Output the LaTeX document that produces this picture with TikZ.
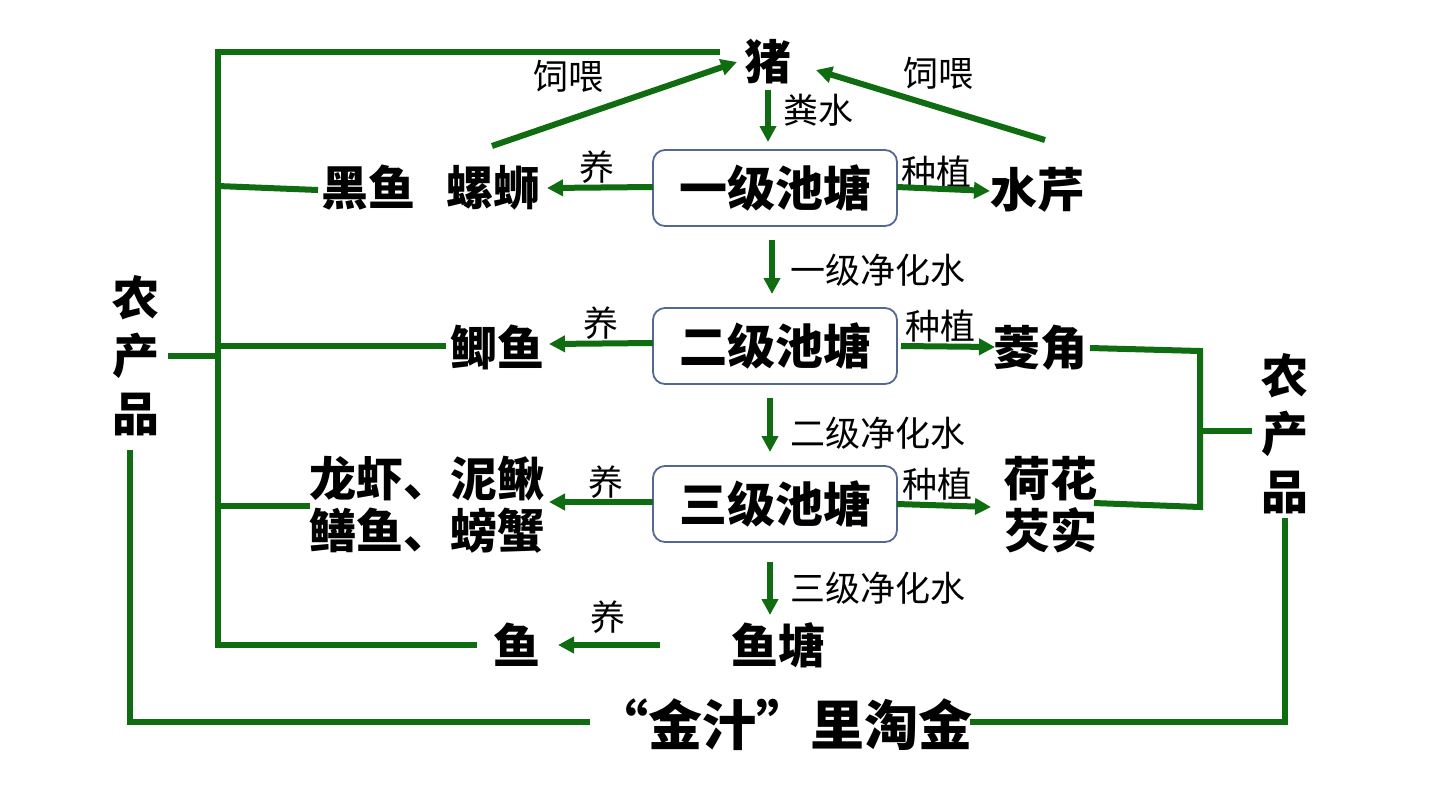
\documentclass[tikz,border=0pt]{standalone}
\usepackage{fontspec}
\setmainfont{Noto Sans CJK SC}[BoldFont={Noto Sans CJK SC Black}]
\usetikzlibrary{arrows.meta}
\definecolor{lg}{RGB}{16,108,16}
\definecolor{bx}{RGB}{84,104,150}
\tikzset{
 conn/.style={draw=lg, line width=3pt},
 arr/.style={conn, -{Triangle[length=8pt,width=8pt]}},
 big/.style={font=\fontsize{23.5}{26}\selectfont\bfseries, inner sep=0pt},
 small/.style={font=\fontsize{17.5}{20}\selectfont, inner sep=0pt},
 pond/.style={big, draw=bx, line width=0.9pt, rounded corners=6pt, minimum width=122pt, minimum height=38pt, fill=white},
}
\begin{document}
\begin{tikzpicture}[x=0.5pt,y=-0.5pt]
\useasboundingbox[fill=white] (0,0) rectangle (1440,810);
% nodes
\node[big] (pig) at (768,62) {猪};
\node[pond, font=\fontsize{24}{26}\selectfont\bfseries] (p1) at (775,188) {一级池塘};
\node[pond, font=\fontsize{24}{26}\selectfont\bfseries] (p2) at (775,346) {二级池塘};
\node[pond, font=\fontsize{24}{26}\selectfont\bfseries] (p3) at (775,504) {三级池塘};
\node[big] (heiyu) at (368,188) {黑鱼};
\node[big] (luosi) at (493,188) {螺蛳};
\node[big] (shuiqin) at (1037,190) {水芹};
\node[big] (jiyu) at (497,347) {鲫鱼};
\node[big] (lingjiao) at (1040,348) {菱角};
\node[big, align=center] (xia) at (427,505) {龙虾、泥鳅\\鳝鱼、螃蟹};
\node[big, align=center] (hehua) at (1050,505) {荷花\\芡实};
\node[big] (yutang) at (778,645) {鱼塘};
\node[big] (yu) at (517,645) {鱼};
\node[big, align=center, font=\fontsize{23.5}{29}\selectfont\bfseries] (nL) at (136,356) {农\\产\\品};
\node[big, align=center, font=\fontsize{23.5}{29}\selectfont\bfseries] (nR) at (1285,434) {农\\产\\品};
\node[font=\fontsize{27}{30}\selectfont\bfseries, inner sep=0pt] (gold) at (783,725) {“金汁”里淘金};
% labels
\node[small] (l1) at (568,76) {饲喂};
\node[small] (l2) at (938,73) {饲喂};
\node[small] (l3) at (818,110) {粪水};
\node[small] (l4) at (597,167) {养};
\node[small] (l5) at (936,172) {种植};
\node[small] (l6) at (878,270) {一级净化水};
\node[small] (l7) at (601,323) {养};
\node[small] (l8) at (940,326) {种植};
\node[small] (l9) at (878,433) {二级净化水};
\node[small] (l10) at (606,482) {养};
\node[small] (l11) at (937,484) {种植};
\node[small] (l12) at (878,588) {三级净化水};
\node[small] (l13) at (608,617) {养};
% coordinates
\coordinate (fl0) at (492,146); \coordinate (fl1) at (737,62);
\coordinate (fr0) at (1045,140); \coordinate (fr1) at (816,70);
\coordinate (pigL) at (720,52);
\coordinate (Ltop) at (218,52); \coordinate (Lbot) at (218,645);
\coordinate (yuL) at (477,645);
\coordinate (b1a) at (218,186); \coordinate (b1b) at (318,190);
\coordinate (b2a) at (218,346); \coordinate (b2b) at (446,346);
\coordinate (b3a) at (218,506); \coordinate (b3b) at (310,506);
\coordinate (b0a) at (168,356); \coordinate (b0b) at (218,356);
\coordinate (r1a) at (1090,348); \coordinate (r1b) at (1200,351);
\coordinate (r2a) at (1094,503); \coordinate (r2b) at (1200,507);
\coordinate (rma) at (1200,431); \coordinate (rmb) at (1252,431);
\coordinate (gL0) at (130,450); \coordinate (gL1) at (130,722); \coordinate (gL2) at (590,722);
\coordinate (gR0) at (970,722); \coordinate (gR1) at (1285,722); \coordinate (gR2) at (1285,518);
\coordinate (d0a) at (768,90); \coordinate (d0b) at (768,142);
\coordinate (d1a) at (772,240); \coordinate (d1b) at (772,294);
\coordinate (d2a) at (770,398); \coordinate (d2b) at (770,452);
\coordinate (d3a) at (770,562); \coordinate (d3b) at (770,615);
\coordinate (e1a) at (653,187); \coordinate (e1b) at (547,188);
\coordinate (e2a) at (653,343); \coordinate (e2b) at (549,344);
\coordinate (e3a) at (653,502); \coordinate (e3b) at (549,502);
\coordinate (e4a) at (660,645); \coordinate (e4b) at (558,645);
\coordinate (z1a) at (897,187); \coordinate (z1b) at (990,191);
\coordinate (z2a) at (901,346); \coordinate (z2b) at (995,347);
\coordinate (z3a) at (897,504); \coordinate (z3b) at (991,507);
% connectors
\draw[arr] (fl0) -- (fl1);
\draw[arr] (fr0) -- (fr1);
\draw[conn] (pigL) -- (Ltop) -- (Lbot) -- (yuL);
\draw[conn] (b1a) -- (b1b);
\draw[conn] (b2a) -- (b2b);
\draw[conn] (b3a) -- (b3b);
\draw[conn] (b0a) -- (b0b);
\draw[conn] (r1a) -- (r1b) -- (r2b) -- (r2a);
\draw[conn] (rma) -- (rmb);
\draw[conn] (gL0) -- (gL1) -- (gL2);
\draw[conn] (gR0) -- (gR1) -- (gR2);
\foreach \n in {d0,d1,d2,d3,e1,e2,e3,e4,z1,z2,z3}{\draw[arr] (\n a) -- (\n b);}
\end{tikzpicture}
\end{document}
